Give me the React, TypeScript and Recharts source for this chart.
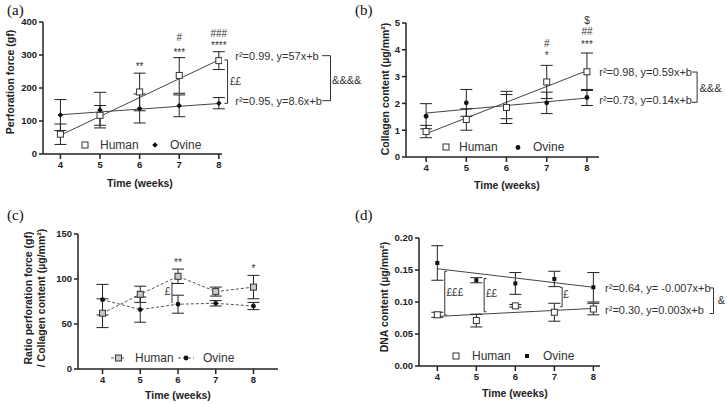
import React from 'react';
import { ComposedChart, Scatter, Line, XAxis, YAxis, ErrorBar, ReferenceDot, ReferenceLine } from 'recharts';

const weeks = [4, 5, 6, 7, 8];

// (a) perforation force (gf)
const humanForce = [60, 117, 188, 238, 283];
const humanForceErr = [31, 30, 57, 54, 27];
const ovineForce = [118, 133, 138, 146, 154];
const ovineForceErr = [47, 54, 44, 33, 17];
const humanForceFit = [57, 285];
const ovineForceFit = [119, 153];

// (b) collagen content (µg/mm²)
const humanColl = [0.95, 1.4, 1.85, 2.8, 3.18];
const humanCollErr = [0.23, 0.4, 0.6, 0.62, 0.7];
const ovineColl = [1.52, 2.02, 1.88, 2.02, 2.22];
const ovineCollErr = [0.47, 0.5, 0.45, 0.4, 0.3];
const humanCollFit = [0.87, 3.22];
const ovineCollFit = [1.64, 2.2];

// (c) ratio force / collagen
const humanRatio = [62, 83, 103, 86, 91];
const humanRatioErr = [16, 9, 8, 5, 13];
const ovineRatio = [77, 66, 72, 73, 70];
const ovineRatioErr = [17, 14, 10, 3, 4];

// (d) DNA content (µg/mm²)
const humanDNA = [0.08, 0.071, 0.094, 0.084, 0.089];
const humanDNAErr = [0.004, 0.01, 0.002, 0.014, 0.009];
const ovineDNA = [0.161, 0.134, 0.129, 0.136, 0.123];
const ovineDNAErr = [0.027, 0.004, 0.017, 0.012, 0.023];
const humanDNAFit = [0.0775, 0.09];
const ovineDNAFit = [0.152, 0.123];

const fitWeeks = [4, 8];

type Note = { x: number; y: number; text: string; anchor?: 'start' | 'middle' | 'end'; size?: number };
type Bracket = { x1: number; x2: number; y1: number; y2: number };

const notesA: Note[] = [
  { x: 6, y: 273, text: '**' },
  { x: 7, y: 352, text: '#' },
  { x: 7, y: 317, text: '***' },
  { x: 8, y: 366, text: '###' },
  { x: 8, y: 337, text: '****' },
  { x: 8.28, y: 221, text: '££', anchor: 'start' },
  { x: 8.415, y: 298, text: 'r²=0.99, y=57x+b', anchor: 'start', size: 11 },
  { x: 8.415, y: 161.5, text: 'r²=0.95, y=8.6x+b', anchor: 'start', size: 11 },
  { x: 10.86, y: 224, text: '&&&&', anchor: 'start', size: 11 },
];
const bracketsA: Bracket[] = [
  { x1: 8.14, x2: 8.22, y1: 285, y2: 153.6 },
  { x1: 10.61, x2: 10.82, y1: 298, y2: 161.5 },
];

const notesB: Note[] = [
  { x: 7, y: 4.24, text: '#' },
  { x: 7, y: 3.9, text: '*' },
  { x: 8, y: 5.11, text: '$' },
  { x: 8, y: 4.68, text: '##' },
  { x: 8, y: 4.3, text: '***' },
  { x: 8.307, y: 3.18, text: 'r²=0.98, y=0.59x+b', anchor: 'start', size: 11 },
  { x: 8.307, y: 2.13, text: 'r²=0.73, y=0.14x+b', anchor: 'start', size: 11 },
  { x: 10.8, y: 2.56, text: '&&&', anchor: 'start', size: 11 },
];
const bracketsB: Bracket[] = [{ x1: 10.61, x2: 10.74, y1: 3.17, y2: 2.04 }];

const notesC: Note[] = [
  { x: 6, y: 121, text: '**' },
  { x: 8, y: 114.8, text: '*' },
  { x: 5.72, y: 85.9, text: '£' },
];
const bracketsC: Bracket[] = [{ x1: 5.84, x2: 5.84, y1: 96.7, y2: 73.3 }];

const notesD: Note[] = [
  { x: 4.45, y: 0.1143, text: '£££' },
  { x: 5.39, y: 0.114, text: '££' },
  { x: 7.3, y: 0.1118, text: '£' },
  { x: 8.3, y: 0.122, text: 'r²=0.64, y= -0.007x+b', anchor: 'start', size: 11 },
  { x: 8.3, y: 0.0873, text: 'r²=0.30, y=0.003x+b', anchor: 'start', size: 11 },
  { x: 11.19, y: 0.103, text: '&', anchor: 'start', size: 11 },
];
const bracketsD: Bracket[] = [
  { x1: 4.25, x2: 4.19, y1: 0.148, y2: 0.0795 },
  { x1: 5.26, x2: 5.2, y1: 0.1367, y2: 0.0847 },
  { x1: 7.15, x2: 7.2, y1: 0.1227, y2: 0.0925 },
  { x1: 10.98, x2: 11.08, y1: 0.122, y2: 0.082 },
];

const sans = 'Liberation Sans, Arial, sans-serif';
const ink = '#222';

const pts = (vals: number[], errs: number[]) => weeks.map((w, i) => ({ x: w, y: vals[i], err: errs[i] }));
const fit = (vals: number[]) => fitWeeks.map((w, i) => ({ x: w, y: vals[i] }));

const openSquare = (fill: string) => (p: any) => (
  <rect x={p.cx - 3} y={p.cy - 3} width={6} height={6} fill={fill} stroke="#333" strokeWidth={1} />
);
const smallSquare = (p: any) => <rect x={p.cx - 2} y={p.cy - 2} width={4} height={4} fill="#111" />;
const diamond = (p: any) => (
  <path d={`M${p.cx},${p.cy - 2.8}L${p.cx + 2.8},${p.cy}L${p.cx},${p.cy + 2.8}L${p.cx - 2.8},${p.cy}Z`} fill="#111" />
);
const dot = (p: any) => <circle cx={p.cx} cy={p.cy} r={2.4} fill="#111" />;

const renderNote = (n: Note, i: number) => {
  const dy = n.text.includes('*') ? '0.62em' : '0.35em';
  return (
    <ReferenceDot
      key={'n' + i}
      x={n.x}
      y={n.y}
      r={1}
      ifOverflow="visible"
      shape={(p: any) => (
        <text x={p.cx} y={p.cy} dy={dy} textAnchor={n.anchor ?? 'middle'} fontSize={n.size ?? 10} fill="#333" fontFamily={sans}>
          {n.text}
        </text>
      )}
    />
  );
};

const renderBracket = (b: Bracket, i: number) => [
  <ReferenceLine key={'bt' + i} segment={[{ x: b.x1, y: b.y1 }, { x: b.x2, y: b.y1 }]} stroke="#333" strokeWidth={1} ifOverflow="visible" />,
  <ReferenceLine key={'bv' + i} segment={[{ x: b.x2, y: b.y1 }, { x: b.x2, y: b.y2 }]} stroke="#333" strokeWidth={1} ifOverflow="visible" />,
  <ReferenceLine key={'bb' + i} segment={[{ x: b.x2, y: b.y2 }, { x: b.x1, y: b.y2 }]} stroke="#333" strokeWidth={1} ifOverflow="visible" />,
];

type PanelProps = {
  left: number;
  top: number;
  width: number;
  height: number;
  margin: { top: number; right: number; bottom: number; left: number };
  xDomain: [number, number];
  yDomain: [number, number];
  yTicks: number[];
  yFormat?: (v: number) => string;
  human: { x: number; y: number; err: number }[];
  ovine: { x: number; y: number; err: number }[];
  humanFit?: { x: number; y: number }[];
  ovineFit?: { x: number; y: number }[];
  humanShape: (p: any) => React.ReactElement;
  ovineShape: (p: any) => React.ReactElement;
  dashed?: boolean;
  notes: Note[];
  brackets: Bracket[];
};

const Panel = (p: PanelProps) => (
  <div style={{ position: 'absolute', left: p.left, top: p.top }}>
    <ComposedChart width={p.width} height={p.height} margin={p.margin}>
      <XAxis
        type="number"
        dataKey="x"
        domain={p.xDomain}
        ticks={weeks}
        allowDataOverflow
        height={20}
        tickSize={5}
        tickMargin={2}
        axisLine={{ stroke: ink, strokeWidth: 1.5 }}
        tickLine={{ stroke: ink, strokeWidth: 1.5 }}
        tick={{ fontSize: 9.5, fontWeight: 'bold', fill: ink, fontFamily: sans }}
      />
      <YAxis
        type="number"
        dataKey="y"
        domain={p.yDomain}
        ticks={p.yTicks}
        allowDataOverflow
        width={40}
        tickSize={4}
        tickMargin={2}
        tickFormatter={p.yFormat}
        axisLine={{ stroke: ink, strokeWidth: 1.5 }}
        tickLine={{ stroke: ink, strokeWidth: 1.5 }}
        tick={{ fontSize: 9.5, fontWeight: 'bold', fill: ink, fontFamily: sans }}
      />
      {p.humanFit && (
        <Line data={p.humanFit} dataKey="y" type="linear" stroke="#444" strokeWidth={1} dot={false} isAnimationActive={false} />
      )}
      {p.ovineFit && (
        <Line data={p.ovineFit} dataKey="y" type="linear" stroke="#444" strokeWidth={1} dot={false} isAnimationActive={false} />
      )}
      {p.dashed && (
        <Line data={p.human} dataKey="y" type="linear" stroke="#555" strokeWidth={1} strokeDasharray="3 2" dot={false} isAnimationActive={false} />
      )}
      {p.dashed && (
        <Line data={p.ovine} dataKey="y" type="linear" stroke="#555" strokeWidth={1} strokeDasharray="3 2" dot={false} isAnimationActive={false} />
      )}
      <Scatter data={p.ovine} dataKey="y" shape={p.ovineShape} isAnimationActive={false}>
        <ErrorBar dataKey="err" direction="y" width={6} stroke={ink} strokeWidth={1} />
      </Scatter>
      <Scatter data={p.human} dataKey="y" shape={p.humanShape} isAnimationActive={false}>
        <ErrorBar dataKey="err" direction="y" width={6} stroke={ink} strokeWidth={1} />
      </Scatter>
      {p.brackets.flatMap(renderBracket)}
      {p.notes.map(renderNote)}
    </ComposedChart>
  </div>
);

const Title = ({ x, y, text, rotate }: { x: number; y: number; text: string; rotate?: boolean }) => (
  <text
    x={x}
    y={y}
    dy="0.35em"
    textAnchor="middle"
    fontSize={10.5}
    fontWeight="bold"
    fill={ink}
    fontFamily={sans}
    transform={rotate ? `rotate(-90 ${x} ${y})` : undefined}
  >
    {text}
  </text>
);

const Letter = ({ x, y, text }: { x: number; y: number; text: string }) => (
  <text x={x} y={y} dy="0.35em" fontSize={15} fill="#111" fontFamily="Liberation Serif, Times New Roman, serif">
    {text}
  </text>
);

const LegendText = ({ x, y, text }: { x: number; y: number; text: string }) => (
  <text x={x} y={y} dy="0.35em" fontSize={12} fill="#333" fontFamily={sans}>
    {text}
  </text>
);

export default function App() {
  return (
    <div style={{ position: 'absolute', left: 0, top: 0, width: 727, height: 404, background: '#fff' }}>
      <Panel
        left={0}
        top={0}
        width={364}
        height={200}
        margin={{ top: 22, right: 142, bottom: 26, left: 3 }}
        xDomain={[3.56, 8.08]}
        yDomain={[0, 400]}
        yTicks={[0, 100, 200, 300, 400]}
        human={pts(humanForce, humanForceErr)}
        ovine={pts(ovineForce, ovineForceErr)}
        humanFit={fit(humanForceFit)}
        ovineFit={fit(ovineForceFit)}
        humanShape={openSquare('#fff')}
        ovineShape={diamond}
        notes={notesA}
        brackets={bracketsA}
      />
      <Panel
        left={364}
        top={0}
        width={363}
        height={200}
        margin={{ top: 23, right: 128, bottom: 23, left: 2 }}
        xDomain={[3.5, 8.3]}
        yDomain={[0, 5]}
        yTicks={[0, 1, 2, 3, 4, 5]}
        human={pts(humanColl, humanCollErr)}
        ovine={pts(ovineColl, ovineCollErr)}
        humanFit={fit(humanCollFit)}
        ovineFit={fit(ovineCollFit)}
        humanShape={openSquare('#fff')}
        ovineShape={dot}
        notes={notesB}
        brackets={bracketsB}
      />
      <Panel
        left={0}
        top={200}
        width={364}
        height={204}
        margin={{ top: 34, right: 86, bottom: 15, left: 38 }}
        xDomain={[3.35, 8.65]}
        yDomain={[0, 150]}
        yTicks={[0, 50, 100, 150]}
        human={pts(humanRatio, humanRatioErr)}
        ovine={pts(ovineRatio, ovineRatioErr)}
        humanShape={openSquare('#c8c8c8')}
        ovineShape={dot}
        dashed
        notes={notesC}
        brackets={bracketsC}
      />
      <Panel
        left={364}
        top={200}
        width={363}
        height={204}
        margin={{ top: 38, right: 127, bottom: 18, left: 15 }}
        xDomain={[3.53, 8.17]}
        yDomain={[0, 0.2]}
        yTicks={[0, 0.05, 0.1, 0.15, 0.2]}
        yFormat={(v: number) => v.toFixed(2)}
        human={pts(humanDNA, humanDNAErr)}
        ovine={pts(ovineDNA, ovineDNAErr)}
        humanFit={fit(humanDNAFit)}
        ovineFit={fit(ovineDNAFit)}
        humanShape={openSquare('#fff')}
        ovineShape={smallSquare}
        notes={notesD}
        brackets={bracketsD}
      />
      <svg width={727} height={404} style={{ position: 'absolute', left: 0, top: 0, pointerEvents: 'none' }}>
        <Letter x={7} y={10} text="(a)" />
        <Letter x={355} y={10} text="(b)" />
        <Letter x={7} y={215} text="(c)" />
        <Letter x={355} y={215} text="(d)" />

        <Title x={10} y={82} text="Perforation force (gf)" rotate />
        <Title x={385} y={89} text="Collagen content (µg/mm²)" rotate />
        <Title x={28} y={298} text="Ratio perforation force (gf)" rotate />
        <Title x={41} y={298} text="/ Collagen content (µg/mm²)" rotate />
        <Title x={384} y={297} text="DNA content (µg/mm²)" rotate />

        <Title x={140} y={183} text="Time (weeks)" />
        <Title x={507} y={185} text="Time (weeks)" />
        <Title x={178} y={395} text="Time (weeks)" />
        <Title x={515} y={393} text="Time (weeks)" />

        {/* legends */}
        <rect x={82} y={142} width={6} height={6} fill="#fff" stroke="#333" />
        <LegendText x={100} y={145} text="Human" />
        <path d="M155,142.2L157.8,145L155,147.8L152.2,145Z" fill="#111" />
        <LegendText x={170} y={145} text="Ovine" />

        <rect x={443} y={144} width={6} height={6} fill="#fff" stroke="#333" />
        <LegendText x={459} y={147} text="Human" />
        <circle cx={518} cy={147.5} r={2.4} fill="#111" />
        <LegendText x={533} y={147} text="Ovine" />

        <line x1={111} y1={358} x2={126} y2={358} stroke="#555" strokeDasharray="3 2" />
        <rect x={115.5} y={355} width={6} height={6} fill="#c8c8c8" stroke="#333" />
        <LegendText x={135} y={358} text="Human" />
        <line x1={178} y1={358} x2={194} y2={358} stroke="#555" strokeDasharray="3 2" />
        <circle cx={186} cy={358} r={2.4} fill="#111" />
        <LegendText x={203} y={358} text="Ovine" />

        <rect x={453} y={353} width={6} height={6} fill="#fff" stroke="#333" />
        <LegendText x={472} y={356} text="Human" />
        <rect x={525} y={354} width={4} height={4} fill="#111" />
        <LegendText x={543} y={356} text="Ovine" />
      </svg>
    </div>
  );
}
